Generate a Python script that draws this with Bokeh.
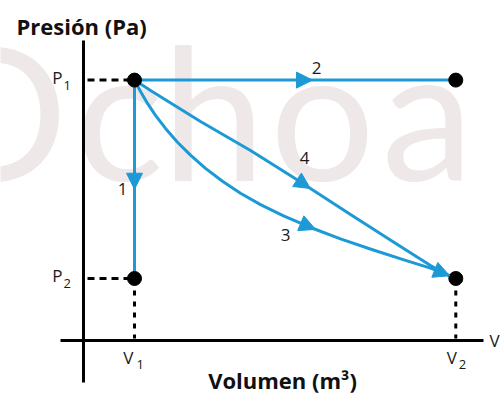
import numpy as np
from bokeh.plotting import figure
from bokeh.models import Range1d, Arrow, NormalHead
from bokeh.embed import file_html
from bokeh.resources import INLINE
from bokeh.core.properties import value

# ---- data (abstract units) ----
V1, V2 = 1.0, 7.3
P1, P2 = 4.2, 1.0
point_v = [V1, V2, V1, V2]
point_p = [P1, P1, P2, P2]
curve3_v = [1.0, 1.118, 1.255, 1.412, 1.608, 1.843, 2.098, 2.392, 2.725, 3.078, 3.471,
            3.922, 4.451, 5.039, 5.667, 6.314, 6.804, 7.235]
curve3_p = [4.2, 4.016, 3.824, 3.631, 3.421, 3.198, 2.989, 2.776, 2.568, 2.376, 2.192,
            2.010, 1.823, 1.639, 1.463, 1.292, 1.168, 1.026]
curve4_v = [1.0, 1.314, 2.294, 3.275, 4.118, 5.235, 6.216, 6.804, 7.235]
curve4_p = [4.2, 4.032, 3.532, 3.065, 2.629, 2.032, 1.516, 1.210, 1.016]
y_tick_main = ["P", "P"]
y_tick_sub = ["1", "2"]
x_tick_main = ["V", "V"]
x_tick_sub = ["1", "2"]
path_labels = ["1", "2", "3", "4"]
watermark_letters = ["O", "c", "h", "o", "a"]

BLUE = "#1d9ad6"
FONT = "Open Sans"
TXT = "#1a1a1a"

W, H = 503, 394
X0, Y0 = 83, 340   # origin inside frame (px)
SX, SY = 51, 62    # px per unit

p = figure(width=W, height=H, output_backend="svg", toolbar_location=None,
           x_range=Range1d(-X0 / SX, (W - X0) / SX),
           y_range=Range1d(-(H - Y0) / SY, Y0 / SY),
           x_axis_type=None, y_axis_type=None, min_border=0)
p.outline_line_color = None
p.grid.visible = False

def dx(px):
    return px / SX

def dy(px):
    return px / SY

# watermark
p.text(x=[dx(-90), dx(36), dx(130), dx(239), dx(344)], y=[dy(232)] * 5,
       text=watermark_letters, text_font=value("Lato"), text_align="center",
       text_font_size="185px", text_color="#efe8e8", text_baseline="alphabetic")

# axes
p.segment(x0=[0], y0=[dy(-42)], x1=[0], y1=[dy(300)], line_color="black", line_width=3)
p.segment(x0=[dx(-23)], y0=[0], x1=[dx(400)], y1=[0], line_color="black", line_width=3)

# guide lines
p.segment(x0=[dx(4), dx(4)], y0=[P1, P2], x1=[V1 - dx(6), V1 - dx(6)], y1=[P1, P2],
          line_color="black", line_width=3, line_dash="7 5")
p.segment(x0=[V1, V2], y0=[P2 - dy(12), P2 - dy(12)], x1=[V1, V2], y1=[dy(2), dy(2)],
          line_color="black", line_width=3, line_dash="5 6")

# paths
p.line([V1, V1], [P1, P2], line_color=BLUE, line_width=3)
p.line([V1, V2], [P1, P1], line_color=BLUE, line_width=3)
p.line(curve3_v, curve3_p, line_color=BLUE, line_width=3, line_join="round")
p.line(curve4_v, curve4_p, line_color=BLUE, line_width=3, line_join="round")

def add_arrow(xs, ys, xe, ye):
    p.add_layout(Arrow(end=NormalHead(size=16, fill_color=BLUE, line_color=BLUE, line_width=1),
                       x_start=xs, y_start=ys, x_end=xe, y_end=ye,
                       line_alpha=0, line_width=0.1))

add_arrow(V1, 2.8, V1, 2.44)
add_arrow(4.1, P1, 4.49, P1)
for cv, cp, vs, ve in [(curve4_v, curve4_p, 4.1, 4.45), (curve3_v, curve3_p, 4.15, 4.55),
                       (curve3_v, curve3_p, 6.8, 7.18)]:
    add_arrow(vs, float(np.interp(vs, cv, cp)), ve, float(np.interp(ve, cv, cp)))

# points
p.scatter(point_v, point_p, size=14, color="black")

# tick labels
p.text(x=[-dx(21)] * 2, y=[P1 + dy(3), P2 + dy(3)], text=y_tick_main, text_align="right",
       text_baseline="middle", text_font=value(FONT), text_font_size="17px", text_color=TXT)
p.text(x=[-dx(20)] * 2, y=[P1 - dy(5), P2 - dy(5)], text=y_tick_sub, text_align="left",
       text_baseline="middle", text_font=value(FONT), text_font_size="13px", text_color=TXT)
p.text(x=[V1 - dx(1), V2 + dx(1)], y=[-dy(17), -dy(17)], text=x_tick_main, text_align="right",
       text_baseline="middle", text_font=value(FONT), text_font_size="17px", text_color=TXT)
p.text(x=[V1 + dx(2), V2 + dx(3)], y=[-dy(24), -dy(24)], text=x_tick_sub, text_align="left",
       text_baseline="middle", text_font=value(FONT), text_font_size="13px", text_color=TXT)
p.text(x=[dx(406)], y=[0], text=["V"], text_align="left", text_baseline="middle",
       text_font=value(FONT), text_font_size="17px", text_color=TXT)

# path labels
p.text(x=[dx(39), dx(233), dx(202), dx(221)],
       y=[dy(152), dy(273), dy(106), dy(183)],
       text=path_labels, text_align="center", text_baseline="middle",
       text_font=value(FONT), text_font_size="17px", text_color=TXT)

# axis titles
p.text(x=[-dx(67)], y=[dy(315)], text=["Presión (Pa)"], text_align="left",
       text_baseline="middle", text_font=value(FONT), text_font_size="22px",
       text_font_style="bold", text_color="#111111")
p.text(x=[dx(199)], y=[-dy(39)], text=["Volumen (m³)"], text_align="center",
       text_baseline="middle", text_font=value(FONT), text_font_size="22px",
       text_font_style="bold", text_color="#111111")

open("out.html", "w").write(file_html(p, INLINE))
